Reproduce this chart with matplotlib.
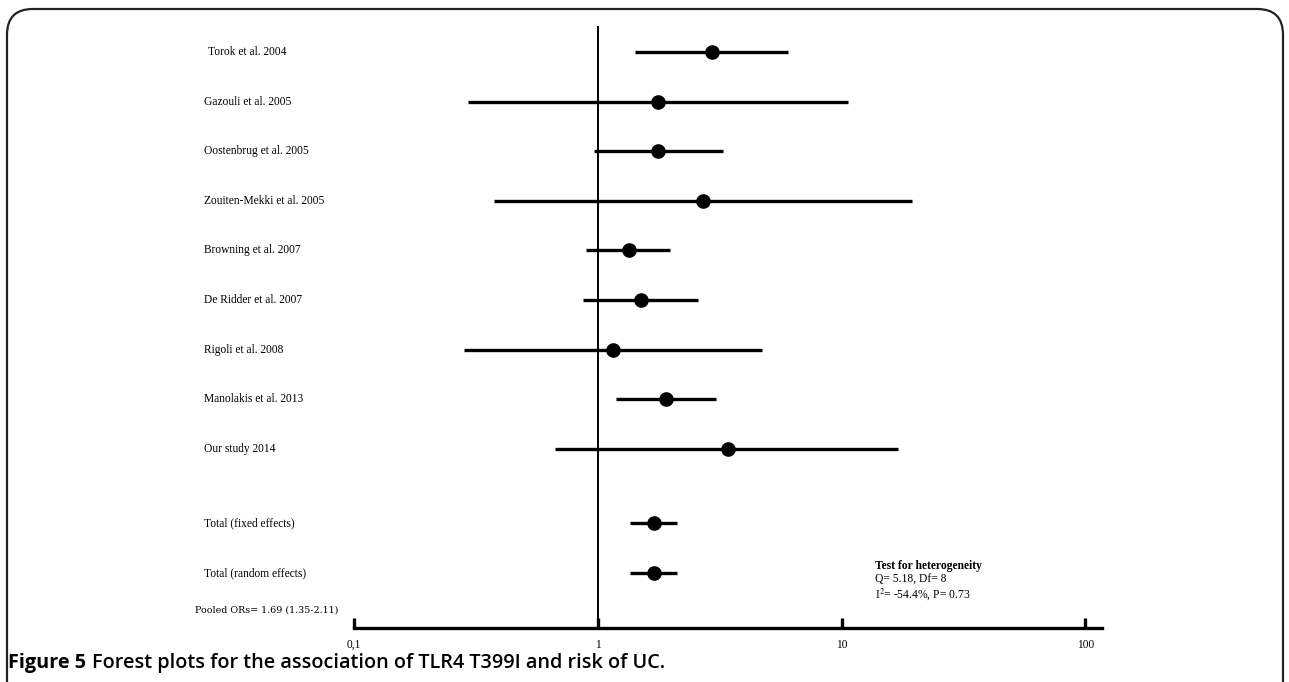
import matplotlib
matplotlib.use("Agg")
import matplotlib.pyplot as plt
import matplotlib.transforms as mtransforms
from matplotlib.patches import FancyBboxPatch

studies = ["Torok et al. 2004", "Gazouli et al. 2005", "Oostenbrug et al. 2005",
           "Zouiten-Mekki et al. 2005", "Browning et al. 2007", "De Ridder et al. 2007",
           "Rigoli et al. 2008", "Manolakis et al. 2013", "Our study 2014",
           "Total (fixed effects)", "Total (random effects)"]
odds_ratio = [2.93, 1.77, 1.77, 2.70, 1.34, 1.50, 1.15, 1.91, 3.40, 1.69, 1.69]
ci_low = [1.42, 0.292, 0.966, 0.375, 0.895, 0.868, 0.282, 1.19, 0.668, 1.35, 1.35]
ci_high = [6.02, 10.6, 3.27, 19.5, 1.97, 2.57, 4.69, 3.06, 17.0, 2.11, 2.11]
row_pos = [0, 1, 2, 3, 4, 5, 6, 7, 8, 9.5, 10.5]
tick_values = [0.1, 1, 10, 100]
tick_labels = ["0,1", "1", "10", "100"]

W, H = 1289, 682
fig = plt.figure(figsize=(W / 100, H / 100), dpi=100)

# rounded frame
frame = FancyBboxPatch((7 / W, -0.05), (1283 - 7) / W, (H - 9) / H + 0.05,
                       boxstyle="round,pad=0,rounding_size=0.02",
                       transform=fig.transFigure, fill=False, lw=1.6,
                       edgecolor="#222222", mutation_aspect=W / H)
fig.patches.append(frame)

left_px, right_px, top_px, bot_px = 354.3, 1102, 26, 628
ax = fig.add_axes([left_px / W, (H - bot_px) / H, (right_px - left_px) / W, (bot_px - top_px) / H])
ax.set_xscale("log")
xmax = 10 ** (-1 + (right_px - left_px) / 243.7)
ax.set_xlim(0.1, xmax)
y0, dy = 52, 49.6
ax.set_ylim((bot_px - y0) / dy, (top_px - y0) / dy)

ax.axvline(1, color="black", lw=1.4, zorder=1)
for y, o, lo, hi in zip(row_pos, odds_ratio, ci_low, ci_high):
    ax.plot([lo, hi], [y, y], color="black", lw=2.4, solid_capstyle="butt", zorder=2)
    ax.plot([o], [y], "o", color="black", ms=9.5, zorder=3)

for s in ["top", "right", "left"]:
    ax.spines[s].set_visible(False)
ax.spines["bottom"].set_linewidth(2.4)
ax.set_yticks([])
ax.set_xticks(tick_values)
ax.set_xticklabels(tick_labels, fontfamily="Liberation Serif", fontsize=8.3)
ax.minorticks_off()
ax.tick_params(axis="x", direction="in", length=7, width=2.4, pad=8)

trans = mtransforms.blended_transform_factory(fig.transFigure, ax.transData)
for name, y in zip(studies, row_pos):
    xoff = 208 if name.startswith("Torok") else 204
    ax.text(xoff / W, y, name, transform=trans, ha="left", va="center",
            fontfamily="Liberation Serif", fontsize=8.3)

fig.text(195 / W, 1 - 610 / H, "Pooled ORs= 1.69 (1.35-2.11)", ha="left", va="center",
         fontfamily="DejaVu Serif", fontsize=6.8)

fig.text(875 / W, 1 - 566 / H, "Test for heterogeneity", ha="left", va="center",
         fontfamily="Liberation Serif", fontsize=8.4, fontweight="bold")
fig.text(875 / W, 1 - 580 / H, "Q= 5.18, Df= 8", ha="left", va="center",
         fontfamily="Liberation Serif", fontsize=8.4)
fig.text(875 / W, 1 - 594 / H, "I$^2$= -54.4%, P= 0.73", ha="left", va="center",
         fontfamily="Liberation Serif", fontsize=8.4, math_fontfamily="stix")

cap1 = fig.text(8 / W, 1 - 663 / H, "Figure 5", ha="left", va="center",
                fontfamily="Open Sans", fontsize=14.3, fontweight="bold")
fig.canvas.draw()
bb = cap1.get_window_extent(fig.canvas.get_renderer())
fig.text((bb.x1 + 6) / W, 1 - 663 / H, "Forest plots for the association of TLR4 T399I and risk of UC.",
         ha="left", va="center", fontfamily="Open Sans", fontsize=14.3, fontweight="semibold")

fig.savefig("out.png", dpi=100)
